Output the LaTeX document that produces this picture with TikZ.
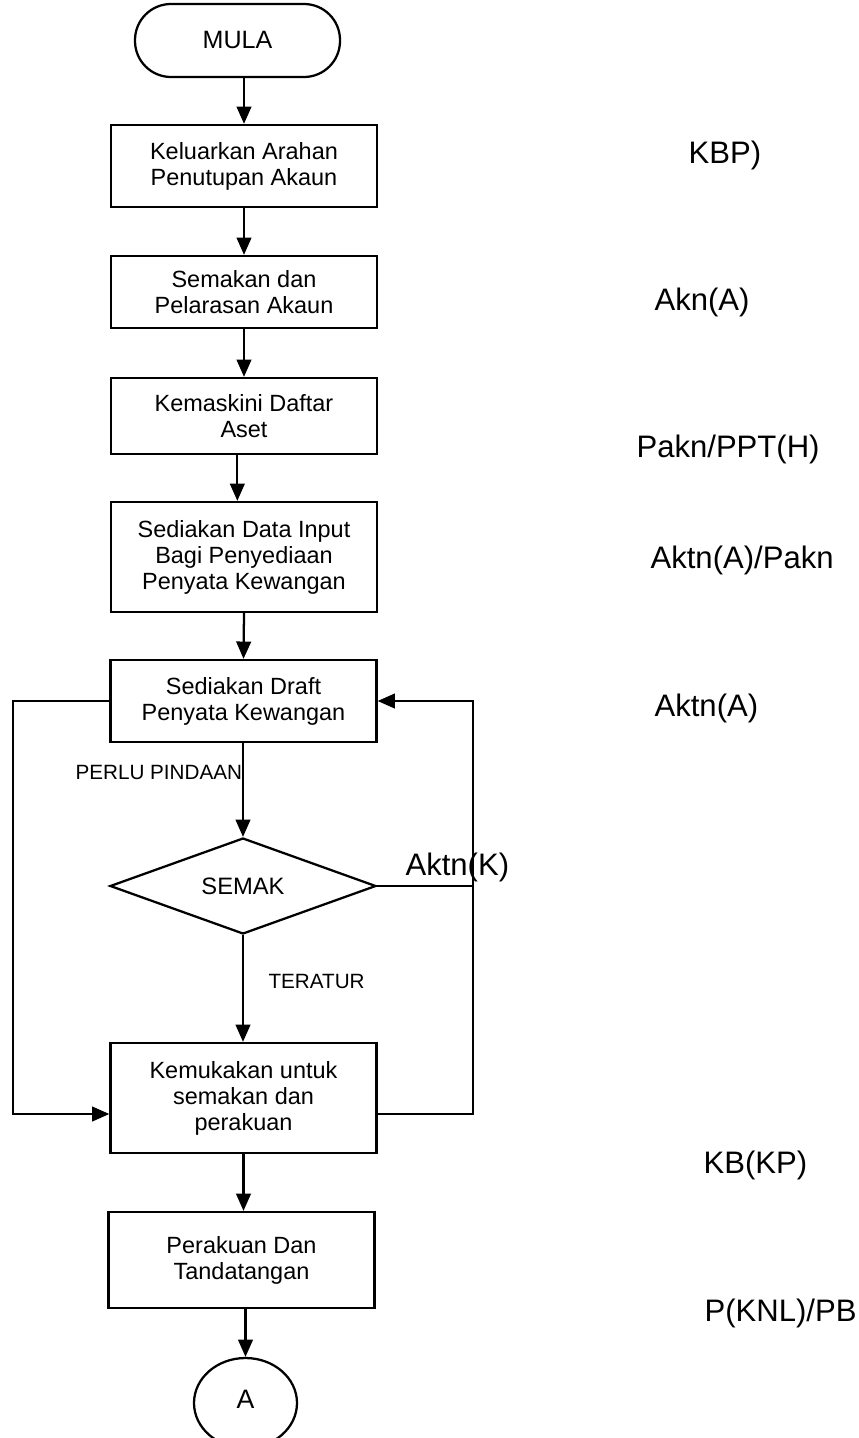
\documentclass[tikz,border=0pt]{standalone}
\usepackage{fontspec}
\setmainfont{Liberation Sans}
\usetikzlibrary{arrows.meta,positioning,calc,shapes.geometric}

\begin{document}
\begin{tikzpicture}[x=0.75pt,y=-0.75pt,line width=1.7pt,
    arr/.style={-{Triangle[length=13pt,width=11pt]}},
    box/.style={draw,rectangle,align=center,minimum width=199.5pt,inner sep=2pt,
      font=\fontsize{17.6}{19.5}\selectfont},
    side/.style={anchor=base west,font=\fontsize{23.3}{26}\selectfont},
    tag/.style={anchor=base west,font=\fontsize{15.5}{18}\selectfont}]
  \useasboundingbox (0,0) rectangle (858,1438);
  % main column
  \node[draw,rounded corners=27pt,minimum width=153.75pt,minimum height=54.75pt,
    font=\fontsize{18.8}{22}\selectfont] (mula) at (237.5,40.5) {MULA};
  \node[box,minimum height=61.5pt] (keluar) at (244,166) {Keluarkan Arahan\\Penutupan Akaun};
  \node[box,minimum height=54pt] (semakan) at (244,292) {Semakan dan\\Pelarasan Akaun};
  \node[box,minimum height=57pt] (kemaskini) at (244,416) {Kemaskini Daftar\\Aset};
  \node[box,minimum height=82.5pt] (datainput) at (244,557) {Sediakan Data Input\\Bagi Penyediaan\\Penyata Kewangan};
  \node[box,minimum height=61.5pt] (draft) at (243.5,701) {Sediakan Draft\\Penyata Kewangan};
  \node[draw,diamond,aspect=2.8,minimum width=199.5pt,minimum height=72pt,inner sep=0pt,
    font=\fontsize{17.8}{20}\selectfont] (semak) at (243,886) {SEMAK};
  \node[box,minimum height=82.5pt] (kemuka) at (243.5,1098) {Kemukakan untuk\\semakan dan\\perakuan};
  \node[box,minimum height=72pt] (tanda) at (241.5,1260) {Perakuan Dan\\Tandatangan};
  \node[draw,ellipse,minimum width=77.25pt,minimum height=67.5pt,inner sep=0pt,
    font=\fontsize{20}{22}\selectfont] (sambung) at (245.5,1403) {\raisebox{6pt}{A}};

  \draw[arr] (keluar.north |- mula.south) -- (keluar.north);
  \draw[arr] (keluar.south) -- (semakan.north);
  \draw[arr] (semakan.south) -- (kemaskini.north);
  \draw[arr] ([xshift=-5pt]kemaskini.south) -- ([xshift=-5pt]datainput.north);
  \draw[arr] (datainput.south) -- (draft.north);
  \draw[arr] (semak.north |- draft.south) -- (semak.north);
  \draw[arr] (semak.south) -- (semak.south |- kemuka.north);
  \draw[arr] (kemuka.south) -- (kemuka.south |- tanda.north);
  \draw[arr] (sambung.north |- tanda.south) -- (sambung.north);

  % loops
  \coordinate (lft) at (13,900);
  \coordinate (rgt) at (473,900);
  \draw[arr] (draft.west) -| (lft) |- ([yshift=-12pt]kemuka.west);
  \draw[arr] ([yshift=-12pt]kemuka.east) -| (rgt) |- (draft.east);
  \draw (semak.east) -- (semak.east -| rgt);

  \node[tag] (perlu) at (70,779) {PERLU PINDAAN};
  \node[tag] (teratur) at (263,988) {TERATUR};
  \node[side] (aktnk) at (400,875) {Aktn(K)};

  % who does it
  \node[side] (kbp) at (683,163) {KBP)};
  \node[side] (akna) at (649,310) {Akn(A)};
  \node[side] (pakn) at (631,457) {Pakn/PPT(H)};
  \node[side] (aktnpakn) at (645,568) {Aktn(A)/Pakn};
  \node[side] (aktna) at (649,716) {Aktn(A)};
  \node[side] (kbkp) at (698,1173) {KB(KP)};
  \node[side] (pknl) at (699,1321) {P(KNL)/PB};
\end{tikzpicture}
\end{document}
